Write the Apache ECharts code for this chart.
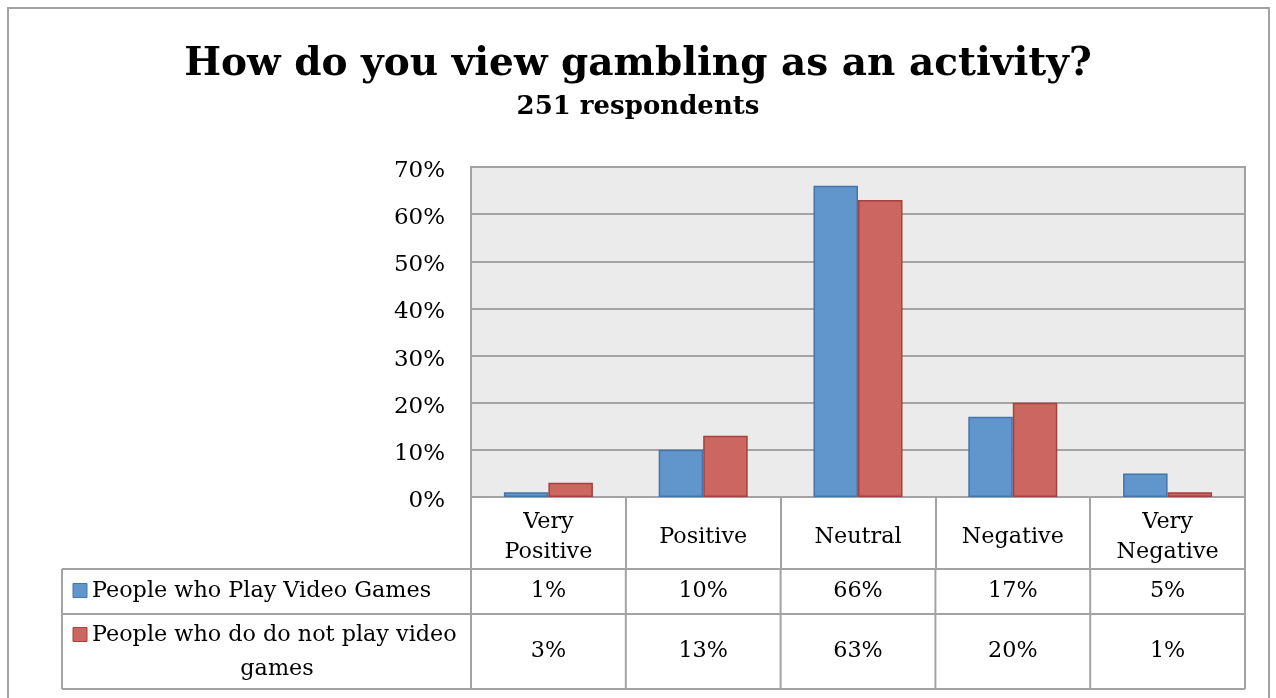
<!DOCTYPE html>
<html>
<head>
<meta charset="utf-8">
<script src="https://cdn.jsdelivr.net/npm/echarts@6/dist/echarts.min.js"></script>
<style>
  html, body { margin: 0; padding: 0; background: #ffffff; }
  #chart { width: 1276px; height: 698px; }
</style>
</head>
<body>
<div id="chart"></div>
<script>
// Survey answers and share of respondents (percent) for each group
const categories = ['Very\nPositive', 'Positive', 'Neutral', 'Negative', 'Very\nNegative'];
const seriesNames = ['People who Play Video Games', 'People who do do not play video\ngames'];
const gamers = [1, 10, 66, 17, 5];
const nonGamers = [3, 13, 63, 20, 1];
const yTicks = [0, 10, 20, 30, 40, 50, 60, 70];

const FONT = '"DejaVu Serif", "Liberation Serif", serif';
const LINE = '#a3a3a3';
const BLUE = '#6096cb', BLUE_EDGE = '#4674a8';
const RED = '#cc6660', RED_EDGE = '#a3423e';

// plot box and data table geometry
const G = { left: 471, top: 167, right: 1245, bottom: 497 };
const tableLeft = 62;
const rowTop = 569, rowMid = 614, rowBottom = 689;

const colW = (G.right - G.left) / categories.length;
const colX = i => G.left + colW * i;

const graphics = [];
// outer chart frame
graphics.push({ type: 'rect', shape: { x: 8, y: 8, width: 1261, height: 700 },
  style: { fill: 'none', stroke: LINE, lineWidth: 2 }, silent: true });
// table rule lines
[rowTop, rowMid, rowBottom].forEach(y => graphics.push({ type: 'line',
  shape: { x1: tableLeft, y1: y, x2: G.right, y2: y }, style: { stroke: LINE, lineWidth: 2 } }));
[tableLeft].concat(categories.map((c, i) => colX(i)), [G.right]).forEach(x => graphics.push({ type: 'line',
  shape: { x1: x, y1: rowTop, x2: x, y2: rowBottom }, style: { stroke: LINE, lineWidth: 2 } }));

// row headers with legend keys, and the value cells
const rows = [
  { name: seriesNames[0], values: gamers, color: BLUE, edge: BLUE_EDGE, y0: rowTop, y1: rowMid },
  { name: seriesNames[1], values: nonGamers, color: RED, edge: RED_EDGE, y0: rowMid, y1: rowBottom }
];
const CELL_FONT = '22.3px ' + FONT;
rows.forEach(r => {
  const cy = (r.y0 + r.y1) / 2;
  const lines = r.name.split('\n');
  const y1 = lines.length === 1 ? cy : cy - 16;
  graphics.push({ type: 'rect', shape: { x: 73, y: y1 - 8, width: 14, height: 14 },
    style: { fill: r.color, stroke: r.edge, lineWidth: 1 } });
  graphics.push({ type: 'text', x: 92, y: y1, style: { text: lines[0], font: CELL_FONT,
    fill: '#000', textAlign: 'left', textVerticalAlign: 'middle' } });
  if (lines.length > 1) {
    graphics.push({ type: 'text', x: 277, y: cy + 18, style: { text: lines[1], font: CELL_FONT,
      fill: '#000', textAlign: 'center', textVerticalAlign: 'middle' } });
  }
  r.values.forEach((v, i) => graphics.push({ type: 'text', x: colX(i) + colW / 2, y: cy,
    style: { text: v + '%', font: CELL_FONT, fill: '#000', textAlign: 'center', textVerticalAlign: 'middle' } }));
});

const chart = echarts.init(document.getElementById('chart'), null, { renderer: 'canvas' });
chart.setOption({
  animation: false,
  backgroundColor: '#ffffff',
  title: [
    { text: 'How do you view gambling as an activity?', left: 'center', top: 40,
      textStyle: { fontFamily: FONT, fontWeight: 'bold', fontSize: 39, color: '#000' } },
    { text: '251 respondents', left: 'center', top: 89,
      textStyle: { fontFamily: FONT, fontWeight: 'bold', fontSize: 26, color: '#000' } }
  ],
  grid: { left: G.left, top: G.top, width: G.right - G.left, height: G.bottom - G.top,
    show: true, backgroundColor: '#ebebeb', borderColor: LINE, borderWidth: 2 },
  xAxis: {
    type: 'category', data: categories,
    axisLine: { show: true, lineStyle: { color: LINE, width: 2 } },
    axisTick: { show: true, interval: 0, length: rowTop - G.bottom, lineStyle: { color: LINE, width: 2 } },
    axisLabel: { interval: 0, margin: 40, verticalAlign: 'middle', lineHeight: 30,
      fontFamily: FONT, fontSize: 22.3, color: '#000' }
  },
  yAxis: {
    type: 'value', min: yTicks[0], max: yTicks[yTicks.length - 1], interval: 10,
    axisLine: { show: true, lineStyle: { color: LINE, width: 2 } },
    axisTick: { show: false },
    splitLine: { lineStyle: { color: LINE, width: 2 } },
    // labels sit a little below their grid lines
    axisLabel: { formatter: '{value}%', margin: 26, verticalAlign: 'top', lineHeight: 8,
      fontFamily: FONT, fontSize: 23, color: '#000' }
  },
  series: [
    { name: 'People who Play Video Games', type: 'bar', data: gamers, barGap: '0%', barCategoryGap: '42.5%',
      itemStyle: { color: BLUE, borderColor: BLUE_EDGE, borderWidth: 1.5 } },
    { name: 'People who do do not play video games', type: 'bar', data: nonGamers,
      itemStyle: { color: RED, borderColor: RED_EDGE, borderWidth: 1.5 } }
  ],
  graphic: graphics
});
</script>
</body>
</html>
